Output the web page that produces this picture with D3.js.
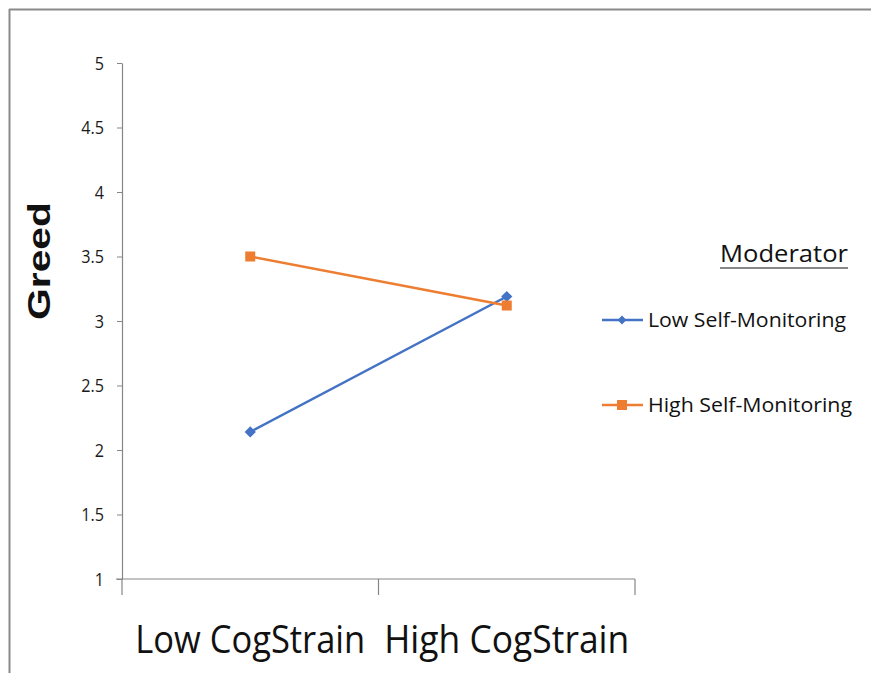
<!DOCTYPE html>
<html>
<head>
<meta charset="utf-8">
<script src="https://cdn.jsdelivr.net/npm/d3@7"></script>
<style>
  html, body { margin: 0; padding: 0; background: #fff; }
  svg { display: block; }
</style>
</head>
<body>
<svg id="chart" width="871" height="673"></svg>
<script>
// Interaction plot: Greed by cognitive strain, moderated by self-monitoring
const categories = ["Low CogStrain", "High CogStrain"];
const seriesNames = ["Low Self-Monitoring", "High Self-Monitoring"];
const lowSelfMonitoring = [2.14, 3.19];
const highSelfMonitoring = [3.50, 3.12];
const yTicks = [1, 1.5, 2, 2.5, 3, 3.5, 4, 4.5, 5];
const colors = ["#4472C4", "#ED7D31"];

const svg = d3.select("#chart");
const W = 871, H = 673;

// outer frame (top and left edges)
svg.append("line").attr("x1", 9).attr("x2", W).attr("y1", 9.5).attr("y2", 9.5)
  .attr("stroke", "#8a8a8a").attr("stroke-width", 2);
svg.append("line").attr("x1", 9.5).attr("x2", 9.5).attr("y1", 9).attr("y2", H)
  .attr("stroke", "#8a8a8a").attr("stroke-width", 2);

const plot = { left: 122, right: 635, top: 63, bottom: 579 };

const x = d3.scaleBand().domain(categories).range([plot.left, plot.right]).padding(0);
const y = d3.scaleLinear().domain([1, 5]).range([plot.bottom, plot.top]);

const textFont = "'Open Sans', 'Noto Sans', sans-serif";

// Y axis
const yAxis = svg.append("g").attr("transform", `translate(${plot.left},0)`)
  .call(d3.axisLeft(y).tickValues(yTicks).tickSize(5).tickSizeOuter(0)
    .tickFormat(d => String(d)));
yAxis.select(".domain").attr("stroke", "#868686").attr("stroke-width", 1.2);
yAxis.selectAll(".tick line").attr("stroke", "#868686");
yAxis.selectAll(".tick text").attr("fill", "#1a1a1a")
  .style("font-size", "18px")
  .style("font-family", textFont)
  .attr("x", -20)
  .attr("transform", "scale(0.9,1)")
  .attr("dy", "0.34em");

// X axis with ticks at category boundaries
const xg = svg.append("g").attr("transform", `translate(0,${plot.bottom})`);
xg.append("line").attr("x1", plot.left - 6).attr("x2", plot.right)
  .attr("y1", 0).attr("y2", 0).attr("stroke", "#868686").attr("stroke-width", 1.2);
const boundaries = [plot.left, x(categories[1]), plot.right];
xg.selectAll("line.b").data(boundaries).join("line").attr("class", "b")
  .attr("x1", d => d).attr("x2", d => d).attr("y1", 0).attr("y2", 16)
  .attr("stroke", "#868686").attr("stroke-width", 1.2);
xg.selectAll("text").data(categories).join("text")
  .attr("x", d => x(d) + x.bandwidth() / 2)
  .attr("y", 74)
  .attr("text-anchor", "middle")
  .attr("font-family", textFont)
  .attr("font-size", 39)
  .attr("fill", "#111")
  .attr("textLength", (d, i) => i === 0 ? 230 : 245)
  .attr("lengthAdjust", "spacingAndGlyphs")
  .text(d => d);

// Y title
svg.append("text")
  .attr("transform", "translate(50,261) rotate(-90)")
  .attr("text-anchor", "middle")
  .attr("font-family", "'Liberation Sans', Arial, sans-serif")
  .attr("font-weight", "bold")
  .attr("font-size", 32)
  .attr("textLength", 118)
  .attr("lengthAdjust", "spacingAndGlyphs")
  .attr("fill", "#111")
  .text("Greed");

// Lines and markers
const series = [lowSelfMonitoring, highSelfMonitoring];
const cx = c => x(c) + x.bandwidth() / 2;
const line = d3.line().x((d, i) => cx(categories[i])).y(d => y(d));

series.forEach((vals, si) => {
  svg.append("path").datum(vals).attr("d", line)
    .attr("fill", "none").attr("stroke", colors[si]).attr("stroke-width", 2.5);
});
// diamonds for low self-monitoring
svg.selectAll("path.dia").data(lowSelfMonitoring).join("path").attr("class", "dia")
  .attr("transform", (d, i) => `translate(${cx(categories[i])},${y(d)})`)
  .attr("d", d3.symbol().type(d3.symbolDiamond2).size(80))
  .attr("fill", colors[0]);
// squares for high self-monitoring
svg.selectAll("rect.sq").data(highSelfMonitoring).join("rect").attr("class", "sq")
  .attr("x", (d, i) => cx(categories[i]) - 5).attr("y", d => y(d) - 5)
  .attr("width", 10).attr("height", 10).attr("fill", colors[1]);

// Legend
const lg = svg.append("g");
lg.append("text").attr("x", 848).attr("y", 262).attr("text-anchor", "end")
  .attr("font-family", textFont).attr("font-size", 24).attr("fill", "#111")
  .attr("textLength", 128).attr("lengthAdjust", "spacingAndGlyphs")
  .text("Moderator");
lg.append("line").attr("x1", 720).attr("x2", 848).attr("y1", 268).attr("y2", 268)
  .attr("stroke", "#111").attr("stroke-width", 1.2);

const legendY = [320, 405];
seriesNames.forEach((name, i) => {
  const yy = legendY[i];
  lg.append("line").attr("x1", 602).attr("x2", 643).attr("y1", yy).attr("y2", yy)
    .attr("stroke", colors[i]).attr("stroke-width", 2.5);
  if (i === 0) {
    lg.append("path").attr("transform", `translate(622,${yy})`)
      .attr("d", d3.symbol().type(d3.symbolDiamond2).size(50)).attr("fill", colors[0]);
  } else {
    lg.append("rect").attr("x", 617).attr("y", yy - 5).attr("width", 10).attr("height", 10)
      .attr("fill", colors[1]);
  }
  lg.append("text").attr("x", 648).attr("y", yy + 7)
    .attr("font-family", textFont).attr("font-size", 20).attr("fill", "#111")
    .attr("textLength", i === 0 ? 198 : 204).attr("lengthAdjust", "spacingAndGlyphs")
    .text(name);
});
</script>
</body>
</html>
